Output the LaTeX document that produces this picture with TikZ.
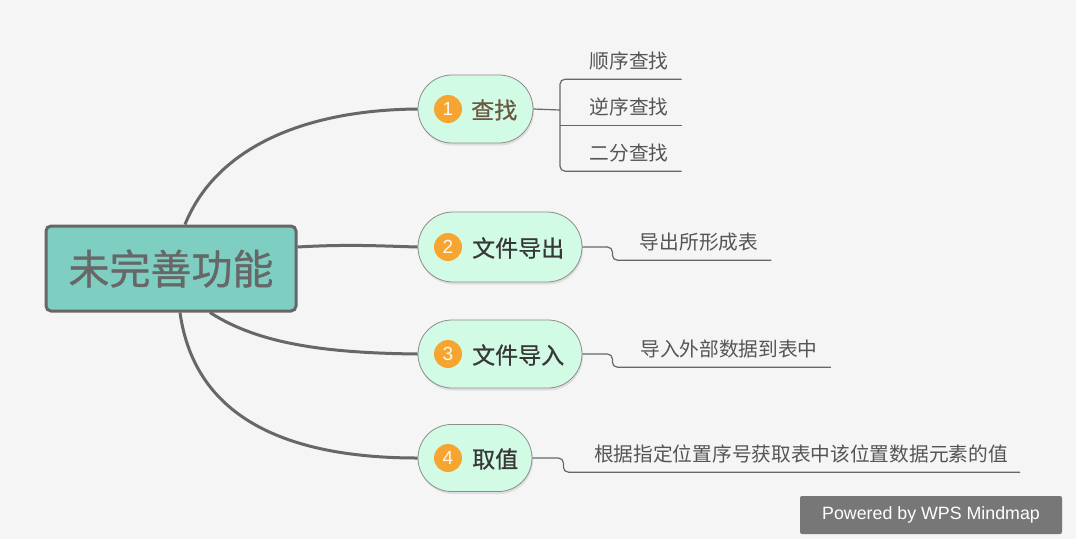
\documentclass[tikz,border=0pt]{standalone}
\usepackage{fontspec}
\setmainfont{Noto Sans CJK SC}
\newfontfamily\heavyfont[FakeBold=0.8]{Noto Sans CJK SC}
\newfontfamily\wpsfont{Liberation Sans}
\usetikzlibrary{shapes.misc,shadows}

\definecolor{bgcol}{HTML}{F5F5F5}
\definecolor{rootfill}{HTML}{7ECEC1}
\definecolor{linecol}{HTML}{676767}
\definecolor{pillfill}{HTML}{D2FBE5}
\definecolor{pillline}{HTML}{8C8C8C}
\definecolor{badgecol}{HTML}{F6A630}
\definecolor{leaftext}{HTML}{555555}
\definecolor{wmfill}{HTML}{777777}

\tikzset{
  root/.style={draw=linecol, line width=3pt, fill=rootfill, rounded corners=5pt,
    minimum width=250, minimum height=85, inner sep=0pt, text=linecol,
    font=\heavyfont\fontsize{41pt}{48pt}\selectfont},
  topic/.style={rounded rectangle, draw=pillline, line width=0.8pt, fill=pillfill,
    inner sep=0pt, drop shadow={opacity=0.18, shadow xshift=1pt, shadow yshift=-2.5pt}},
  badge/.style={circle, fill=badgecol, minimum size=28, inner sep=0pt, text=white!92!badgecol,
    font=\wpsfont\fontsize{19pt}{20pt}\selectfont},
  topictext/.style={anchor=west, inner sep=0pt, text=black!78,
    font=\heavyfont\fontsize{23pt}{28pt}\selectfont},
  leaf/.style={inner sep=0pt, minimum height=36, text=leaftext,
    font=\fontsize{19.7pt}{24pt}\selectfont},
  branch/.style={draw=linecol, line width=3pt},
  twig/.style={draw=linecol, line width=1.2pt},
}

\begin{document}
\begin{tikzpicture}[x=1pt,y=-1pt]

\useasboundingbox (0,0) rectangle (1076,539);
\fill[bgcol] (0,0) rectangle (1076,539);

% centre
\node[root] (root) at (171,268.5) {未完善功能};

% main topics
\node[topic, minimum width=115, minimum height=68] (t1) at (475.5,109) {};
\node[topic, minimum width=164, minimum height=70] (t2) at (500,247) {};
\node[topic, minimum width=164, minimum height=68] (t3) at (500,354) {};
\node[topic, minimum width=114, minimum height=67] (t4) at (475,458) {};

\node[badge] (b1) at (448,109) {1};
\node[badge] (b2) at (448,247) {2};
\node[badge] (b3) at (448,354) {3};
\node[badge] (b4) at (448,458) {4};

\node[topictext, text={rgb,255:red,107;green,88;blue,66}] (n1) at (471,110) {查找};
\node[topictext] (n2) at (472,248) {文件导出};
\node[topictext] (n3) at (472,355) {文件导入};
\node[topictext] (n4) at (472,459) {取值};

% curves from the centre
\draw[branch] ([xshift=14pt]root.north) .. controls (215,150) and (300,110) .. (t1.west);
\draw[branch] (root.east |- 0,247) .. controls (350,244) and (380,246) .. (t2.west);
\draw[branch] ([xshift=39pt]root.south) .. controls (260,345) and (330,353) .. (t3.west);
\draw[branch] ([xshift=9pt]root.south) .. controls (195,420) and (290,458) .. (t4.west);

% leaves
\node[leaf] (s1) at (629,61) {顺序查找};
\node[leaf] (s2) at (629,107) {逆序查找};
\node[leaf] (s3) at (629,153) {二分查找};
\node[leaf] (l2) at (699,242) {导出所形成表};
\node[leaf] (l3) at (729,349) {导入外部数据到表中};
\node[leaf] (l4) at (801,454) {根据指定位置序号获取表中该位置数据元素的值};

\coordinate (k1) at (560,110);
\draw[twig] (t1.east) -- (k1);
\draw[twig, rounded corners=5pt] ([xshift=13pt]s1.south east) -- (k1 |- s1.south)
  -- (k1 |- s3.south) -- ([xshift=13pt]s3.south east);
\draw[twig] (k1 |- s2.south) -- ([xshift=13pt]s2.south east);

\draw[twig, rounded corners=5pt] (t2.east) -- ++(30,0) |- ([xshift=13pt]l2.south east);
\draw[twig, rounded corners=5pt] (t3.east) -- ++(30,0) |- ([xshift=13pt]l3.south east);
\draw[twig, rounded corners=5pt] (t4.east) -- ++(31,0) |- ([xshift=12pt]l4.south east);

% watermark
\node[fill=wmfill, rounded corners=2pt, minimum width=262, minimum height=38, inner sep=0pt,
  text=white, font=\wpsfont\fontsize{17.8pt}{20pt}\selectfont] (wm) at (931,515) {Powered by WPS Mindmap};

\end{tikzpicture}
\end{document}
